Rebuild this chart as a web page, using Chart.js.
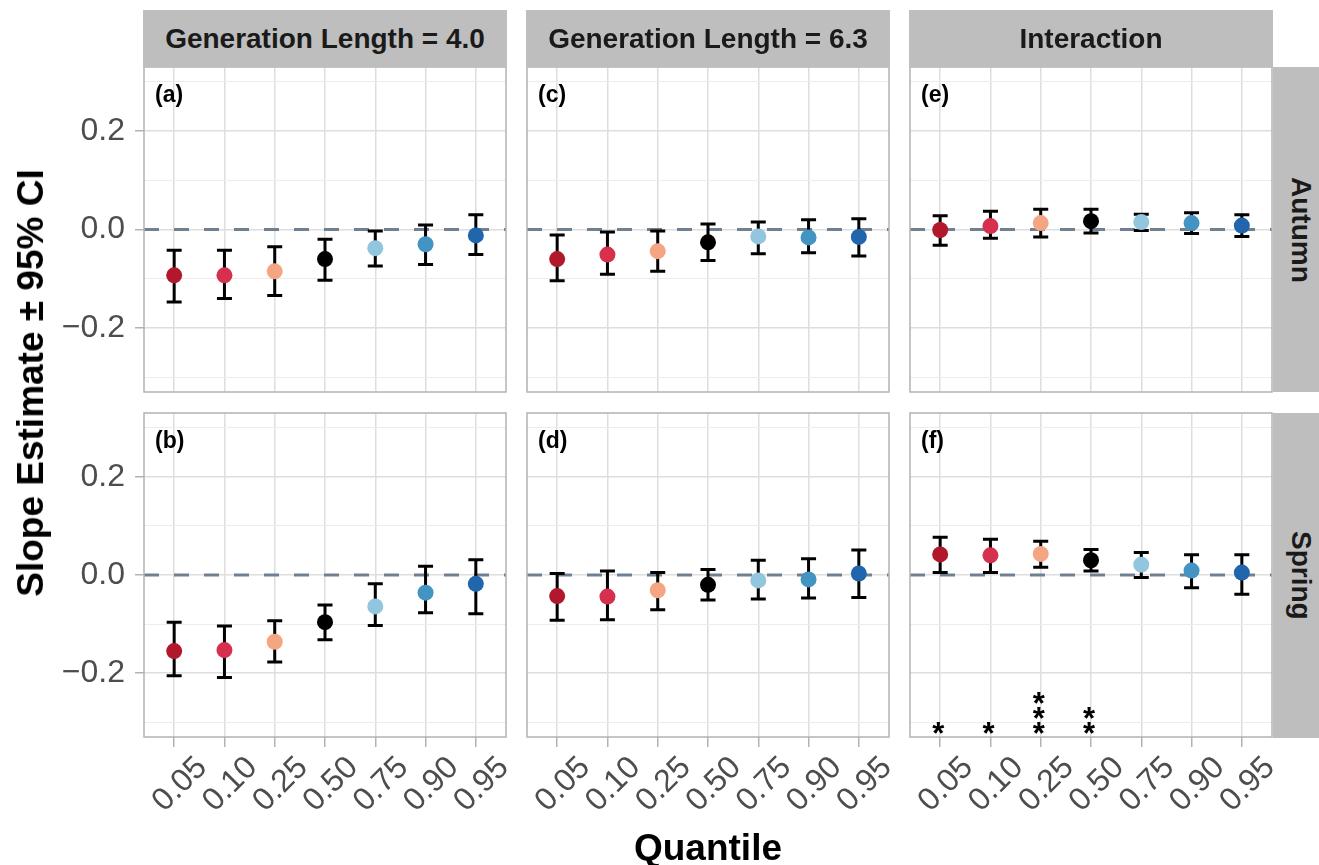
<!DOCTYPE html>
<html>
<head>
<meta charset="utf-8">
<script src="https://cdn.jsdelivr.net/npm/chart.js@4.4.1/dist/chart.umd.min.js"></script>
<style>
  body { margin: 0; background: #fff; width: 1319px; height: 865px; position: relative; overflow: hidden;
         font-family: "Liberation Sans", Arial, Helvetica, sans-serif; }
  canvas { position: absolute; left: 0; top: 0; }
  .strip { position: absolute; background: #bebebe; color: #1a1a1a; font-weight: bold; font-size: 28px;
           display: flex; align-items: center; justify-content: center; white-space: nowrap; }
  .strip.side span { writing-mode: vertical-rl; }
  .tag { position: absolute; font-weight: bold; font-size: 23px; line-height: 23px; color: #000; }
  .title { position: absolute; font-weight: bold; font-size: 37px; color: #000; white-space: nowrap; }
</style>
</head>
<body>
<canvas id="pa" width="1319" height="865"></canvas>
<canvas id="pb" width="1319" height="865"></canvas>
<canvas id="pc" width="1319" height="865"></canvas>
<canvas id="pd" width="1319" height="865"></canvas>
<canvas id="pe" width="1319" height="865"></canvas>
<canvas id="pf" width="1319" height="865"></canvas>

<div class="strip" style="left:143px; top:10px; width:364px; height:57px;">Generation Length = 4.0</div>
<div class="strip" style="left:526px; top:10px; width:364px; height:57px;">Generation Length = 6.3</div>
<div class="strip" style="left:909px; top:10px; width:364px; height:57px;">Interaction</div>
<div class="strip side" style="left:1273px; top:67px; width:56px; height:325px;"><span>Autumn</span></div>
<div class="strip side" style="left:1273px; top:413px; width:56px; height:325px;"><span>Spring</span></div>

<div class="tag" style="left:155px; top:83px;">(a)</div>
<div class="tag" style="left:538px; top:83px;">(c)</div>
<div class="tag" style="left:921px; top:83px;">(e)</div>
<div class="tag" style="left:155px; top:429px;">(b)</div>
<div class="tag" style="left:538px; top:429px;">(d)</div>
<div class="tag" style="left:921px; top:429px;">(f)</div>

<div class="title" style="left:31px; top:383px; transform: translate(-50%, -50%) rotate(-90deg);">Slope Estimate ± 95% CI</div>
<div class="title" style="left:708px; top:848px; transform: translate(-50%, -50%);">Quantile</div>

<script>
const quantiles = ['0.05', '0.10', '0.25', '0.50', '0.75', '0.90', '0.95'];
const pointColors = ['#b2182b', '#d6304e', '#f4a582', '#000000', '#92c5de', '#4393c3', '#2166ac'];
const yGridValues = [-0.3, -0.2, -0.1, 0, 0.1, 0.2, 0.3];

// Autumn, generation length 4.0  (a)
const autumnGL40Est = [-0.093, -0.093, -0.085, -0.060, -0.038, -0.030, -0.012];
const autumnGL40Lo  = [-0.147, -0.140, -0.134, -0.103, -0.074, -0.071, -0.051];
const autumnGL40Hi  = [-0.042, -0.042, -0.035, -0.020, -0.003,  0.009,  0.030];
// Spring, generation length 4.0  (b)
const springGL40Est = [-0.155, -0.153, -0.136, -0.096, -0.064, -0.036, -0.018];
const springGL40Lo  = [-0.205, -0.209, -0.177, -0.132, -0.103, -0.077, -0.079];
const springGL40Hi  = [-0.096, -0.104, -0.093, -0.061, -0.018,  0.018,  0.031];
// Autumn, generation length 6.3  (c)
const autumnGL63Est = [-0.060, -0.051, -0.044, -0.026, -0.014, -0.016, -0.015];
const autumnGL63Lo  = [-0.104, -0.091, -0.085, -0.063, -0.049, -0.047, -0.054];
const autumnGL63Hi  = [-0.011, -0.005, -0.003,  0.011,  0.015,  0.020,  0.022];
// Spring, generation length 6.3  (d)
const springGL63Est = [-0.043, -0.044, -0.031, -0.020, -0.011, -0.009,  0.003];
const springGL63Lo  = [-0.092, -0.091, -0.071, -0.051, -0.049, -0.047, -0.046];
const springGL63Hi  = [ 0.003,  0.008,  0.005,  0.011,  0.030,  0.033,  0.051];
// Autumn, interaction  (e)
const autumnIntEst = [-0.001, 0.007, 0.013, 0.017, 0.015, 0.013, 0.008];
const autumnIntLo  = [-0.032, -0.018, -0.015, -0.007, -0.002, -0.008, -0.014];
const autumnIntHi  = [ 0.028, 0.037, 0.041, 0.041, 0.031, 0.034, 0.030];
// Spring, interaction  (f)
const springIntEst = [0.042, 0.040, 0.043, 0.030, 0.021, 0.009, 0.005];
const springIntLo  = [0.005, 0.005, 0.016, 0.008, -0.005, -0.026, -0.039];
const springIntHi  = [0.077, 0.073, 0.069, 0.052, 0.046, 0.041, 0.041];
const springIntStars = ['*', '*', '***', '**', '', '', ''];
const starLevel = -0.305;

const FONT = '"Liberation Sans", Arial, Helvetica, sans-serif';
const panelLeft = [144, 527, 910], panelRight = [506, 889, 1272];
const panelTop = [67, 413], panelBottom = [392, 737];
const yAxisWidth = 144, xAxisHeight = 128;

const isMajor = v => Math.abs(Math.round(v * 10)) % 2 === 0;

const errorBars = {
  id: 'errorBars',
  beforeDatasetsDraw(chart) {
    const {ctx, chartArea: a, scales: {x, y}} = chart;
    const o = chart.options.plugins.errorBars;
    ctx.save();
    ctx.beginPath();
    ctx.rect(a.left, a.top, a.width, a.height);
    ctx.clip();
    // dashed zero line
    const y0 = y.getPixelForValue(0);
    ctx.strokeStyle = '#708090';
    ctx.lineWidth = 3;
    ctx.setLineDash([15, 15]);
    ctx.beginPath();
    ctx.moveTo(a.left, y0);
    ctx.lineTo(a.right, y0);
    ctx.stroke();
    ctx.setLineDash([]);
    // CI whiskers
    ctx.strokeStyle = '#000';
    ctx.lineWidth = 3;
    o.lo.forEach((lo, i) => {
      const px = x.getPixelForValue(i + 1);
      const yl = y.getPixelForValue(lo), yh = y.getPixelForValue(o.hi[i]);
      ctx.beginPath();
      ctx.moveTo(px, yl); ctx.lineTo(px, yh);
      ctx.moveTo(px - 7.5, yl); ctx.lineTo(px + 7.5, yl);
      ctx.moveTo(px - 7.5, yh); ctx.lineTo(px + 7.5, yh);
      ctx.stroke();
    });
    ctx.restore();
  },
  afterDraw(chart) {
    const {ctx, chartArea: a, scales: {x, y}} = chart;
    const o = chart.options.plugins.errorBars;
    ctx.save();
    ctx.strokeStyle = '#b3b3b3';
    ctx.lineWidth = 1.5;
    ctx.strokeRect(a.left, a.top, a.width, a.height);
    if (o.stars) {
      ctx.fillStyle = '#000';
      ctx.font = 'bold 31px ' + FONT;
      ctx.textAlign = 'center';
      ctx.textBaseline = 'alphabetic';
      o.stars.forEach((s, i) => {
        const px = x.getPixelForValue(i + 1) - 2;
        const py = y.getPixelForValue(starLevel);
        for (let k = 0; k < s.length; k++) {
          ctx.fillText('*', px, py - k * 15 + 19);
        }
      });
    }
    ctx.restore();
  }
};

function makePanel(id, est, lo, hi, stars, col, row) {
  const showY = col === 0, showX = row === 1;
  new Chart(document.getElementById(id), {
    type: 'scatter',
    data: {
      datasets: [{
        data: est.map((v, i) => ({x: i + 1, y: v})),
        pointBackgroundColor: pointColors,
        pointBorderWidth: 0,
        pointRadius: 8,
        pointHoverRadius: 8
      }]
    },
    options: {
      responsive: false,
      animation: false,
      events: [],
      layout: {
        padding: {
          left: panelLeft[col] - (showY ? yAxisWidth : 0),
          right: 1319 - panelRight[col],
          top: panelTop[row],
          bottom: 865 - panelBottom[row] - (showX ? xAxisHeight : 0)
        }
      },
      plugins: {
        legend: {display: false},
        tooltip: {enabled: false},
        errorBars: {lo: lo, hi: hi, stars: stars}
      },
      scales: {
        x: {
          type: 'linear', min: 0.4, max: 7.6,
          afterBuildTicks: s => { s.ticks = quantiles.map((q, i) => ({value: i + 1})); },
          afterFit: s => { s.height = showX ? xAxisHeight : 0; s.paddingLeft = 0; s.paddingRight = 0; },
          border: {display: false},
          grid: {color: '#dedede', lineWidth: 1.5, drawTicks: showX, tickLength: 10,
                 tickColor: '#b3b3b3', tickWidth: 1.5},
          ticks: {display: showX, autoSkip: false, minRotation: 45, maxRotation: 45,
                  color: '#4d4d4d', font: {size: 32, family: FONT}, padding: 2, labelOffset: 28,
                  callback: (v, i) => quantiles[i]}
        },
        y: {
          min: -0.33, max: 0.33,
          afterBuildTicks: s => { s.ticks = yGridValues.map(v => ({value: v})); },
          afterFit: s => { s.width = showY ? yAxisWidth : 0; s.paddingTop = 0; s.paddingBottom = 0; },
          border: {display: false},
          grid: {
            color: c => isMajor(c.tick.value) ? '#dedede' : '#ececec',
            lineWidth: c => isMajor(c.tick.value) ? 1.5 : 1,
            drawTicks: showY, tickLength: 9, tickWidth: 1.5,
            tickColor: c => isMajor(c.tick.value) ? '#b3b3b3' : 'rgba(0,0,0,0)'
          },
          ticks: {display: showY, color: '#4d4d4d', font: {size: 32, family: FONT}, padding: 10,
                  callback: v => isMajor(v) ? v.toFixed(1).replace('-', '\u2212') : ''}
        }
      }
    },
    plugins: [errorBars]
  });
}

makePanel('pa', autumnGL40Est, autumnGL40Lo, autumnGL40Hi, null, 0, 0);
makePanel('pb', springGL40Est, springGL40Lo, springGL40Hi, null, 0, 1);
makePanel('pc', autumnGL63Est, autumnGL63Lo, autumnGL63Hi, null, 1, 0);
makePanel('pd', springGL63Est, springGL63Lo, springGL63Hi, null, 1, 1);
makePanel('pe', autumnIntEst, autumnIntLo, autumnIntHi, null, 2, 0);
makePanel('pf', springIntEst, springIntLo, springIntHi, springIntStars, 2, 1);
</script>
</body>
</html>
